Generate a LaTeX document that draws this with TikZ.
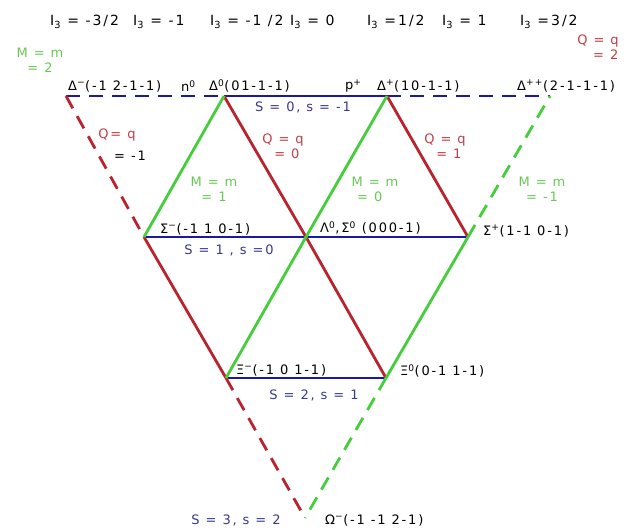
\documentclass[tikz,border=0pt]{standalone}
\usepackage{fontspec}
\setmainfont{DejaVu Sans}[LetterSpace=14]
\definecolor{bl}{RGB}{25,25,165}
\definecolor{gr}{RGB}{70,205,60}
\definecolor{rd}{RGB}{185,35,45}
\definecolor{lgr}{RGB}{105,200,85}
\definecolor{lrd}{RGB}{195,60,70}
\definecolor{btx}{RGB}{55,55,150}
\newcommand{\isub}{I\textsubscript{3}}
\begin{document}
\begin{tikzpicture}[x=1pt,y=-1pt,
  lbl/.style={inner sep=0pt, font=\fontsize{13}{15}\selectfont},
  hlbl/.style={inner sep=0pt, anchor=west, font=\fontsize{14}{16}\selectfont},
  edge/.style={line width=2.8pt},
  dsh/.style={edge, dash pattern=on 14pt off 9pt},
  qlab/.style={lbl, text=lrd, align=center},
  mlab/.style={lbl, text=lgr, align=center},
  slab/.style={lbl, text=btx}]
\useasboundingbox[fill=white] (0,0) rectangle (633,531);
% vertices
\coordinate (TL) at (66,96);
\coordinate (A) at (224,96);
\coordinate (B) at (387,96);
\coordinate (TR) at (550,96);
\coordinate (C) at (144,237);
\coordinate (D) at (306,237);
\coordinate (E) at (468,237);
\coordinate (F) at (226,378);
\coordinate (G) at (386,378);
\coordinate (O) at (305,518);
% blue lines (S = const)
\draw[dsh, bl] (TL) -- (A);
\draw[edge, bl] (A) -- (B);
\draw[dsh, bl] (B) -- (TR);
\draw[edge, bl] (C) -- (E);
\draw[edge, bl] (F) -- (G);
% red lines (Q = const)
\draw[dsh, rd] (TL) -- (C);
\draw[edge, rd] (C) -- (F);
\draw[dsh, rd] (F) -- (O);
\draw[edge, rd] (A) -- (D) -- (G);
\draw[edge, rd] (B) -- (E);
% green lines (M = const)
\draw[edge, gr] (C) -- (A);
\draw[edge, gr] (F) -- (D) -- (B);
\draw[edge, gr] (G) -- (E);
\draw[dsh, gr] (E) -- (TR);
\draw[dsh, gr] (G) -- (O);
% I3 header
\node[hlbl] (i1) at (50,22) {\isub\ = -3/2};
\node[hlbl] (i2) at (133,22) {\isub\ = -1};
\node[hlbl] (i3) at (210,22) {\isub\ = -1 /2};
\node[hlbl] (i4) at (290,22) {\isub\ = 0};
\node[hlbl] (i5) at (367,22) {\isub\ =1/2};
\node[hlbl] (i6) at (442,22) {\isub\ = 1};
\node[hlbl] (i7) at (520,22) {\isub\ =3/2};
% corner labels
\node[mlab] (m2) at (40,60) {M = m\\= 2};
\node[qlab] (q2) at (598,47) {Q = q\\\hspace*{1.2em}= 2};
% particle labels
\node[lbl, anchor=west] (dm) at (68,86) {Δ\textsuperscript{−}(-1 2-1-1)};
\node[lbl, anchor=west] (n0) at (181,86) {n\textsuperscript{0}};
\node[lbl, anchor=west] (d0) at (209,86) {Δ\textsuperscript{0}(01-1-1)};
\node[lbl, anchor=west] (pp) at (345,86) {p\textsuperscript{+}};
\node[lbl, anchor=west] (dp) at (377,86) {Δ\textsuperscript{+}(10-1-1)};
\node[lbl, anchor=west] (dpp) at (517,86) {Δ\textsuperscript{++}(2-1-1-1)};
\node[lbl, anchor=west] (sm) at (160,229) {Σ\textsuperscript{−}(-1 1 0-1)};
\node[lbl, anchor=west] (l0) at (320,228) {Λ\textsuperscript{0},Σ\textsuperscript{0} (000-1)};
\node[lbl, anchor=west] (sp) at (483,231) {Σ\textsuperscript{+}(1-1 0-1)};
\node[lbl, anchor=west] (xm) at (236,370) {Ξ\textsuperscript{−}(-1 0 1-1)};
\node[lbl, anchor=west] (x0) at (400,371) {Ξ\textsuperscript{0}(0-1 1-1)};
\node[lbl, anchor=west] (om) at (325,520) {Ω\textsuperscript{−}(-1 -1 2-1)};
% strangeness labels
\node[slab] (s0) at (303,107) {S = 0, s = -1};
\node[slab] (s1) at (229,250) {S = 1 , s =0};
\node[slab] (s2) at (314,395) {S = 2, s = 1};
\node[slab] (s3) at (236,520) {S = 3, s = 2};
% charge labels
\node[lbl, text=lrd] (qm1a) at (117,135) {Q= q};
\node[lbl] (qm1b) at (130,156) {= -1};
\node[qlab] (q0) at (283,146) {Q = q\\\hspace*{0.6em}= 0};
\node[qlab] (q1) at (445,146) {Q = q\\\hspace*{0.6em}= 1};
% mass-like labels
\node[mlab] (mm1) at (214,189) {M = m\\= 1};
\node[mlab] (mm0) at (375,189) {M = m\\= 0\hspace*{0.8em}};
\node[mlab] (mmm) at (542,189) {M = m\\= -1};
\end{tikzpicture}
\end{document}
